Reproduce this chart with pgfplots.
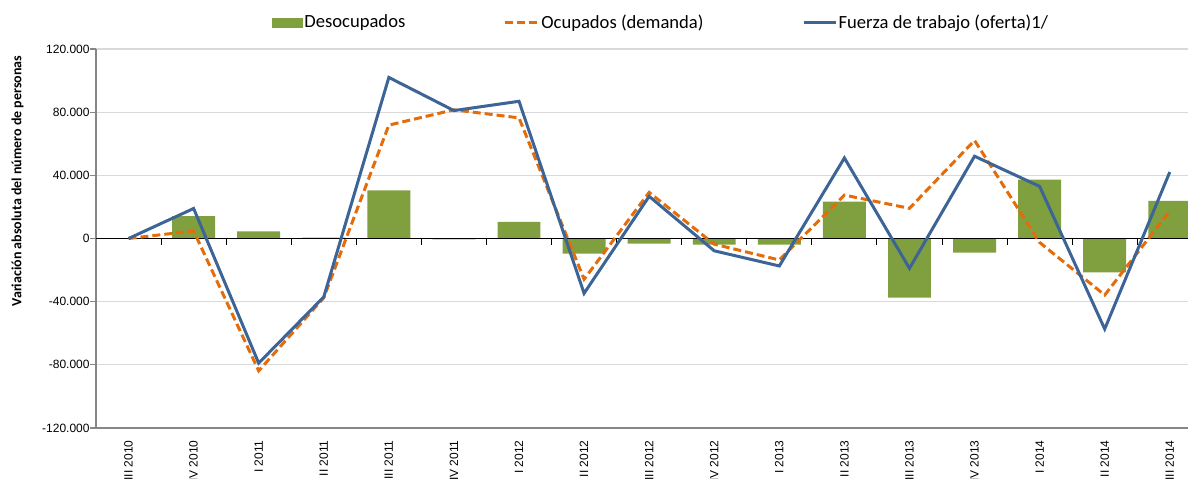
\documentclass[border=0pt]{standalone}
\usepackage{pgfplots}
\pgfplotsset{compat=1.18}
\usepackage{pgfplotstable}
\usepackage{fontspec}
\setmainfont{Carlito}
\newfontfamily\arial{Liberation Sans}
\definecolor{barg}{HTML}{80A040}
\definecolor{lblue}{HTML}{3C6496}
\definecolor{lorange}{HTML}{E46C0A}
\definecolor{gridg}{HTML}{D9D9D9}
\definecolor{axg}{HTML}{868686}

\pgfplotstableread{
idx desoc ocup fuerza
0 0 0 0
1 14100 4800 19000
2 4500 -83800 -78900
3 500 -37500 -37000
4 30500 71800 102000
5 -500 81500 81000
6 10500 76400 86900
7 -9500 -25800 -34700
8 -3200 29200 26700
9 -3800 -3600 -7800
10 -3800 -13600 -17400
11 23300 27500 51000
12 -37500 19100 -18900
13 -8900 62100 52100
14 37300 -2500 33000
15 -21500 -35800 -57300
16 23800 17400 42100
}\datatable

\begin{document}
\begin{tikzpicture}
\begin{axis}[
  name=ax,
  scale only axis,
  width=546pt, height=189.5pt,
  xmin=-0.5, xmax=16.28,
  ymin=-120000, ymax=120000,
  ytick={-120000,-80000,-40000,0,40000,80000,120000},
  yticklabels={-120.000,-80.000,-40.000,0,40.000,80.000,120.000},
  xtick={0,...,16},
  xticklabels={III 2010, IV 2010, I 2011, II 2011, III 2011, IV 2011, I 2012, II 2012, III 2012, IV 2012, I 2013, II 2013, III 2013, IV 2013, I 2014, II 2014, III 2014},
  axis x line*=bottom, axis y line*=left,
  axis line style={draw=axg, line width=0.9pt},
  xtick style={draw=none},
  ytick style={draw=axg, line width=0.6pt},
  tick align=outside, major tick length=3pt,
  ymajorgrids, grid style={draw=gridg, line width=0.6pt},
  scaled y ticks=false,
  ticklabel style={font=\arial\fontsize{6}{7}\selectfont},
  xticklabel style={yshift=-3pt, rotate=90, anchor=east, inner sep=0pt},
  yticklabel style={inner sep=0pt},
  legend style={draw=none, fill=none, legend columns=3, at={(0,1)}, anchor=west,
    xshift=87.75pt, yshift=13pt, font=\fontsize{9.3}{11}\selectfont,
    inner xsep=0pt, inner ysep=0pt, nodes={inner sep=0.75pt},
    /tikz/every even column/.append style={column sep=48.5pt}},
]
\addplot[ybar, bar width=0.66, bar shift=0pt, fill=barg, draw=none,
  legend image code/.code={\fill[barg] (0pt,-2.5pt) rectangle (15.5pt,2.5pt);}]
  table[x=idx,y=desoc]{\datatable};
\addlegendentry{Desocupados}
\draw[black, line width=0.6pt] (axis cs:-0.5,0) -- (axis cs:16.28,0);
\foreach \t in {0.5,1.5,2.5,3.5,4.5,5.5,6.5,7.5,8.5,9.5,10.5,11.5,12.5,13.5,14.5,15.5}{
  \edef\temp{\noexpand\draw[black, line width=0.5pt] (axis cs:\t,0) -- ([yshift=-3pt]axis cs:\t,0);}
  \temp
}
\addplot[lorange, line width=1.5pt, dash pattern=on 4pt off 2pt,
  legend image code/.code={\draw[lorange, line width=1.5pt, dash pattern=on 4pt off 2pt] (0pt,0pt) -- (16.5pt,0pt);}]
  table[x=idx,y=ocup]{\datatable};
\addlegendentry{Ocupados (demanda)}
\addplot[lblue, line width=1.5pt,
  legend image code/.code={\draw[lblue, line width=1.5pt] (0pt,0pt) -- (16pt,0pt);}]
  table[x=idx,y=fuerza]{\datatable};
\addlegendentry{Fuerza de trabajo (oferta)1/}
\end{axis}
\node[rotate=90, font=\bfseries\fontsize{7}{8}\selectfont] at ([xshift=-39.25pt,yshift=-66pt]ax.north west) {Variación absoluta del número de personas};
\pgfresetboundingbox
\path[use as bounding box] ([shift={(-48pt,-25pt)}]ax.south west) rectangle ([shift={(0pt,24.5pt)}]ax.north east);
\end{tikzpicture}
\end{document}
